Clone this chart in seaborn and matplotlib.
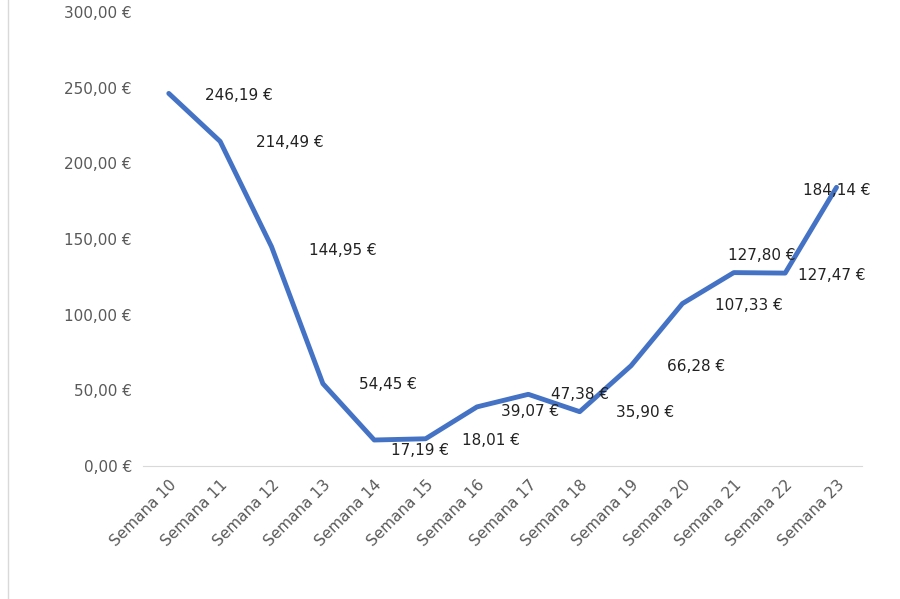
import matplotlib
matplotlib.use("Agg")
import matplotlib.pyplot as plt
import seaborn as sns
import pandas as pd

weeks = [f"Semana {i}" for i in range(10, 24)]
values = [246.19, 214.49, 144.95, 54.45, 17.19, 18.01, 39.07, 47.38, 35.90,
          66.28, 107.33, 127.80, 127.47, 184.14]
# label offsets (pixels) of the label centre from its point
label_dx = [70, 70, 71, 65, 46, 65, 53, 52, 65, 65, 66, 28, 47, 0]
label_dy = [-2, -1, -4, -1, -10, -2, -5, 0, -1, -1, -2, 17, -2, -3]

df = pd.DataFrame({"semana": weeks, "valor": values})

sns.set_style("white")
plt.rcParams['font.family'] = ['DejaVu Sans']

fig = plt.figure(figsize=(9, 5.99), dpi=100)
ax = fig.add_axes([0.159, 0.222, 0.799, 0.758])
sns.lineplot(data=df, x="semana", y="valor", color="#4472C4", linewidth=3.5,
             sort=False, ax=ax)

def euro(v):
    return f"{v:,.2f} €".replace(",", "X").replace(".", ",").replace("X", ".")

for i, v in enumerate(values):
    ax.annotate(euro(v), (i, v), xytext=(label_dx[i], label_dy[i]),
                textcoords="offset pixels", ha="center", va="center",
                fontsize=11, color="#222222")

ax.set_xlim(-0.5, 13.5)
ax.set_ylim(0, 300)
ax.set_yticks(range(0, 301, 50))
ax.set_yticklabels([euro(v) for v in range(0, 301, 50)], color="#595959", fontsize=11)
ax.set_xticks(range(len(weeks)))
ax.set_xticklabels(weeks, rotation=45, ha="right", rotation_mode="anchor",
                   color="#595959", fontsize=11)
ax.tick_params(length=0, pad=8)
ax.set_xlabel("")
ax.set_ylabel("")
for s in ["top", "right", "left"]:
    ax.spines[s].set_visible(False)
ax.spines["bottom"].set_color("#d9d9d9")

fig.add_artist(plt.Line2D([0.009, 0.009], [0, 1], color="#d9d9d9", lw=1))
fig.savefig("out.png", dpi=100)
